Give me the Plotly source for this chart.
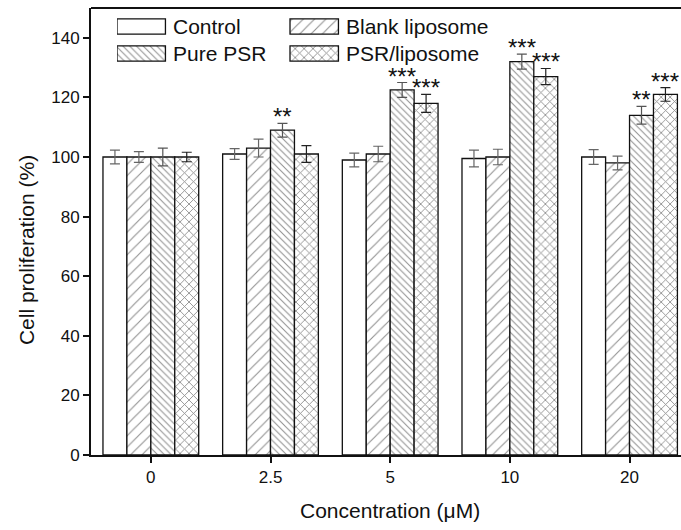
import plotly.graph_objects as go

concentrations = ["0", "2.5", "5", "10", "20"]
series_names = ["Control", "Blank liposome", "Pure PSR", "PSR/liposome"]
control = [100, 101, 99, 99.5, 100]
blank_lipo = [100, 103, 101, 100, 98]
pure_psr = [100, 109, 122.5, 132, 114]
psr_lipo = [100, 101, 118, 127, 121]
control_err = [2.3, 1.8, 2.3, 2.8, 2.5]
blank_err = [1.8, 3.0, 2.6, 2.6, 2.3]
pure_err = [3.0, 2.3, 2.5, 2.5, 3.0]
lipo_err = [1.6, 2.8, 3.0, 2.7, 2.3]
signif_pure = ["", "**", "***", "***", "**"]
signif_lipo = ["", "", "***", "***", "***"]

values = [control, blank_lipo, pure_psr, psr_lipo]
errors = [control_err, blank_err, pure_err, lipo_err]
signif = [None, None, signif_pure, signif_lipo]
patterns = [
    dict(shape=""),
    dict(shape="/", size=8, solidity=0.14, fgcolor="#222", bgcolor="white"),
    dict(shape="\\", size=4.8, solidity=0.22, fgcolor="#222", bgcolor="white"),
    dict(shape="x", size=6.3, solidity=0.25, fgcolor="#111", bgcolor="white"),
]
err_colors = ["#666", "#666", "#555", "#222"]

FONT = "Liberation Sans, Arial, sans-serif"
xpos = list(range(len(concentrations)))
ngroups = len(series_names)
bar_w = 0.2

fig = go.Figure()
for j, name in enumerate(series_names):
    fig.add_trace(go.Bar(
        x=xpos, y=values[j], name=name, width=bar_w,
        offset=(j - ngroups / 2) * bar_w,
        marker=dict(color="white", line=dict(color="#111", width=1.3), pattern=patterns[j]),
        error_y=dict(type="data", array=errors[j], color=err_colors[j], thickness=1.2, width=5),
        showlegend=False,
    ))

annotations = []
for j in range(ngroups):
    if signif[j] is None:
        continue
    for i, s in enumerate(signif[j]):
        if not s:
            continue
        annotations.append(dict(
            x=i + (j - ngroups / 2 + 0.5) * bar_w, y=values[j][i] + errors[j][i],
            xref="x", yref="y", text=s, showarrow=False, yanchor="bottom",
            yshift=-9, font=dict(family=FONT, size=24, color="#111"),
        ))

# Legend drawn in an inset axis: 2 columns x 2 rows, one swatch per series
ncols = 2
swatch_len = 0.28
swatch_h = 0.56
for j, name in enumerate(series_names):
    col, row = j % ncols, j // ncols
    fig.add_trace(go.Bar(
        x=[swatch_len], y=[row], base=[col], orientation="h", width=swatch_h,
        marker=dict(color="white", line=dict(color="#111", width=1.3), pattern=patterns[j]),
        xaxis="x2", yaxis="y2", showlegend=False, hoverinfo="skip",
    ))
    annotations.append(dict(
        x=col + swatch_len + 0.03, y=row, xref="x2", yref="y2", text=name,
        showarrow=False, xanchor="left", yanchor="middle",
        font=dict(family=FONT, size=21, color="#111"),
    ))

# axis titles
annotations.append(dict(
    x=-0.108, y=0.459, xref="paper", yref="paper", text="Cell proliferation (%)",
    textangle=-90, showarrow=False, xanchor="center", yanchor="middle",
    font=dict(family=FONT, size=21, color="#111"),
))
annotations.append(dict(
    x=(390 - 91) / 590, y=-(510 - 455) / 447, xref="paper", yref="paper",
    text="Concentration (μM)", showarrow=False, xanchor="center", yanchor="middle",
    font=dict(family=FONT, size=21, color="#111"),
))

fig.update_layout(
    width=681, height=530,
    margin=dict(l=91, r=0, t=8, b=75),
    plot_bgcolor="white", paper_bgcolor="white",
    font=dict(family=FONT, color="#111"),
    barmode="overlay",
    annotations=annotations,
    showlegend=False,
    xaxis=dict(
        range=[-0.5, 4.43], tickmode="array", tickvals=xpos, ticktext=concentrations,
        showline=True, linecolor="#111", linewidth=2, mirror=False,
        ticks="outside", ticklen=6, tickwidth=1.5, tickcolor="#111",
        tickfont=dict(size=17), showgrid=False, zeroline=False,
    ),
    yaxis=dict(
        range=[0, 150], tickvals=[0, 20, 40, 60, 80, 100, 120, 140],
        showline=True, linecolor="#111", linewidth=2,
        ticks="outside", ticklen=6, tickwidth=1.5, tickcolor="#111",
        tickfont=dict(size=17), showgrid=False, zeroline=False,
    ),
    xaxis2=dict(domain=[(117 - 91) / 590, (117 - 91 + 346) / 590], range=[0, 2],
                visible=False, fixedrange=True),
    yaxis2=dict(domain=[1 - (67 - 8) / 447, 1 - (13 - 8) / 447], range=[1.5, -0.5],
                visible=False, fixedrange=True),
    shapes=[dict(type="line", xref="paper", yref="paper", x0=0, x1=1, y0=1, y1=1,
                 line=dict(color="#111", width=2))],
)

fig.write_html("out.html")
